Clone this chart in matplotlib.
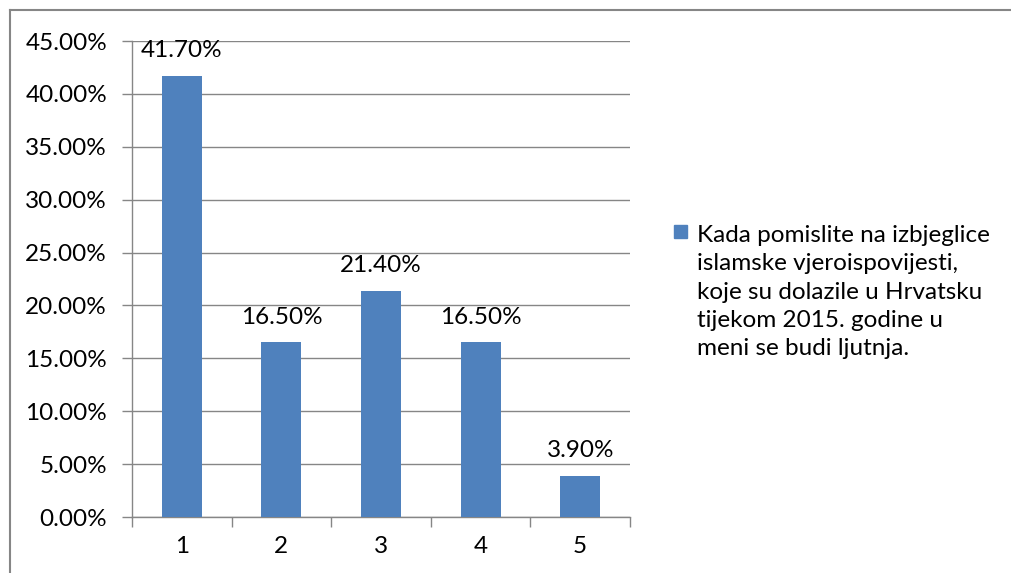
import numpy as np
import matplotlib
matplotlib.use('Agg')
import matplotlib.pyplot as plt
from matplotlib.patches import Rectangle
from matplotlib.lines import Line2D
from matplotlib.ticker import FuncFormatter

categories = ['1', '2', '3', '4', '5']
values = [41.70, 16.50, 21.40, 16.50, 3.90]
legend_label = ("Kada pomislite na izbjeglice\nislamske vjeroispovijesti,\n"
                "koje su dolazile u Hrvatsku\ntijekom 2015. godine u\nmeni se budi ljutnja.")

bar_color = '#4F81BD'
grid_color = '#868686'
plt.rcParams['font.family'] = ['Lato', 'DejaVu Sans']
fs = 17.5

fig = plt.figure(figsize=(10.12, 5.73), dpi=100)
ax = fig.add_axes([132 / 1012, 1 - 517 / 573, 498 / 1012, 476 / 573])

x = np.arange(1, len(categories) + 1)
ax.bar(x, values, width=0.4, color=bar_color, zorder=3)
for xi, v in zip(x, values):
    ax.annotate('%.2f%%' % v, (xi, v), xytext=(0, 18), textcoords='offset points',
                ha='center', va='center', fontsize=fs, color='black', zorder=4)

ax.set_xlim(0.5, len(categories) + 0.5)
ax.set_ylim(0, 45)
ax.set_yticks(np.arange(0, 46, 5))
ax.yaxis.set_major_formatter(FuncFormatter(lambda v, p: '%.2f%%' % v))
ax.yaxis.grid(True, color=grid_color, linewidth=1.0, zorder=0)

ax.set_xticks(np.arange(0.5, len(categories) + 1, 1))
ax.set_xticklabels([])
ax.set_xticks(x, minor=True)
ax.set_xticklabels(categories, minor=True)
ax.tick_params(axis='x', which='major', length=7, width=1.0, color=grid_color, direction='out')
ax.tick_params(axis='x', which='minor', length=0, pad=14, labelsize=fs)
ax.tick_params(axis='y', length=7, width=1.0, color=grid_color, direction='out', pad=11, labelsize=fs)

for s in ['top', 'right']:
    ax.spines[s].set_visible(False)
for s in ['left', 'bottom']:
    ax.spines[s].set_color(grid_color)
    ax.spines[s].set_linewidth(1.0)

# legend drawn by hand so the marker sits next to the first line
fig.patches.append(Rectangle((674 / 1012, 1 - 238 / 573), 13 / 1012, 13 / 573,
                             transform=fig.transFigure, color=bar_color))
fig.text(697 / 1012, 1 - 225 / 573, legend_label, ha='left', va='top',
         fontsize=fs, linespacing=1.43)

# outer chart border
fig.lines.append(Line2D([10 / 1012, 1], [1 - 10 / 573, 1 - 10 / 573],
                        transform=fig.transFigure, color=grid_color, linewidth=1.5))
fig.lines.append(Line2D([10 / 1012, 10 / 1012], [0, 1 - 10 / 573],
                        transform=fig.transFigure, color=grid_color, linewidth=1.5))

fig.savefig('out.png', dpi=100)
